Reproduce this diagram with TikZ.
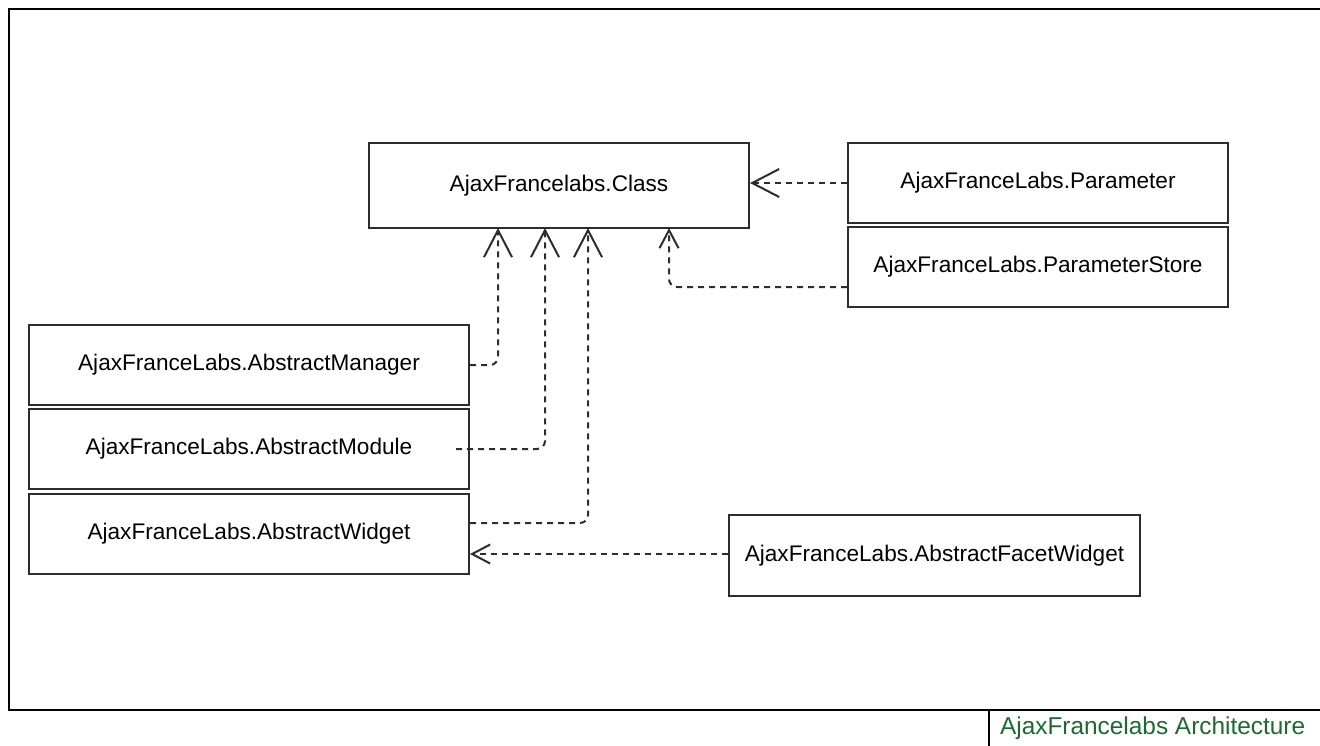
\documentclass[tikz,border=0pt]{standalone}
\usepackage{fontspec}
\setmainfont{Liberation Sans}
\usepackage{xcolor}
\usetikzlibrary{arrows.meta,positioning}
\definecolor{umlline}{RGB}{45,45,45}
\definecolor{titlegreen}{RGB}{30,105,50}
\tikzset{
  classbox/.style={draw=umlline, line width=1pt, fill=white, align=center,
    inner sep=0pt, font=\fontsize{11.3}{14}\selectfont},
  dep/.style={draw=umlline, line width=1pt, dash pattern=on 3pt off 2.5pt,
    rounded corners=4pt, -{Straight Barb[length=13.5pt,width=14pt,line width=1pt]}},
  depsmall/.style={dep, -{Straight Barb[length=9pt,width=9.5pt,line width=1pt]}},
  frame/.style={draw=black, line width=1.2pt}
}
\begin{document}
\begin{tikzpicture}[x=0.5pt, y=-0.5pt]
  \useasboundingbox (0,0) rectangle (1320,745);
  % outer frame
  \draw[frame] (1340,9) -- (9,9) -- (9,710) -- (1340,710);
  \draw[frame] (989,710) -- (989,750);
  \node[anchor=west, text=titlegreen, font=\fontsize{12.2}{14}\selectfont] (title) at (993,728) {AjaxFrancelabs Architecture};

  % classes
  \node[classbox, minimum width=190pt, minimum height=42.5pt] (cls) at (559,185.5) {AjaxFrancelabs.Class};
  \node[classbox, minimum width=190pt, minimum height=40pt] (param) at (1038,183) {AjaxFranceLabs.Parameter};
  \node[classbox, minimum width=190pt, minimum height=40pt] (store) at (1038,267) {AjaxFranceLabs.ParameterStore};
  \node[classbox, minimum width=220pt, minimum height=40pt] (manager) at (249,365) {AjaxFranceLabs.AbstractManager};
  \node[classbox, minimum width=220pt, minimum height=40pt] (module) at (249,449) {AjaxFranceLabs.AbstractModule};
  \node[classbox, minimum width=220pt, minimum height=40pt] (widget) at (249,534) {AjaxFranceLabs.AbstractWidget};
  \node[classbox, minimum width=205.5pt, minimum height=40.5pt] (facet) at (934.5,555.5) {AjaxFranceLabs.AbstractFacetWidget};

  % dependencies
  \draw[dep] (param.west) -- (cls.east |- param.west);
  \draw[depsmall] (store.west |- 0,287) -- (669,287) -- (669,228);
  \draw[dep] (manager.east) -- (498,365) -- (498,228);
  \draw[dep] ([xshift=-7pt]module.east) -- (545,449) -- (545,228);
  \draw[dep] (widget.east |- 0,523) -- (588,523) -- (588,228);
  \draw[depsmall] (facet.west |- 0,554) -- (widget.east |- 0,554);
\end{tikzpicture}
\end{document}
